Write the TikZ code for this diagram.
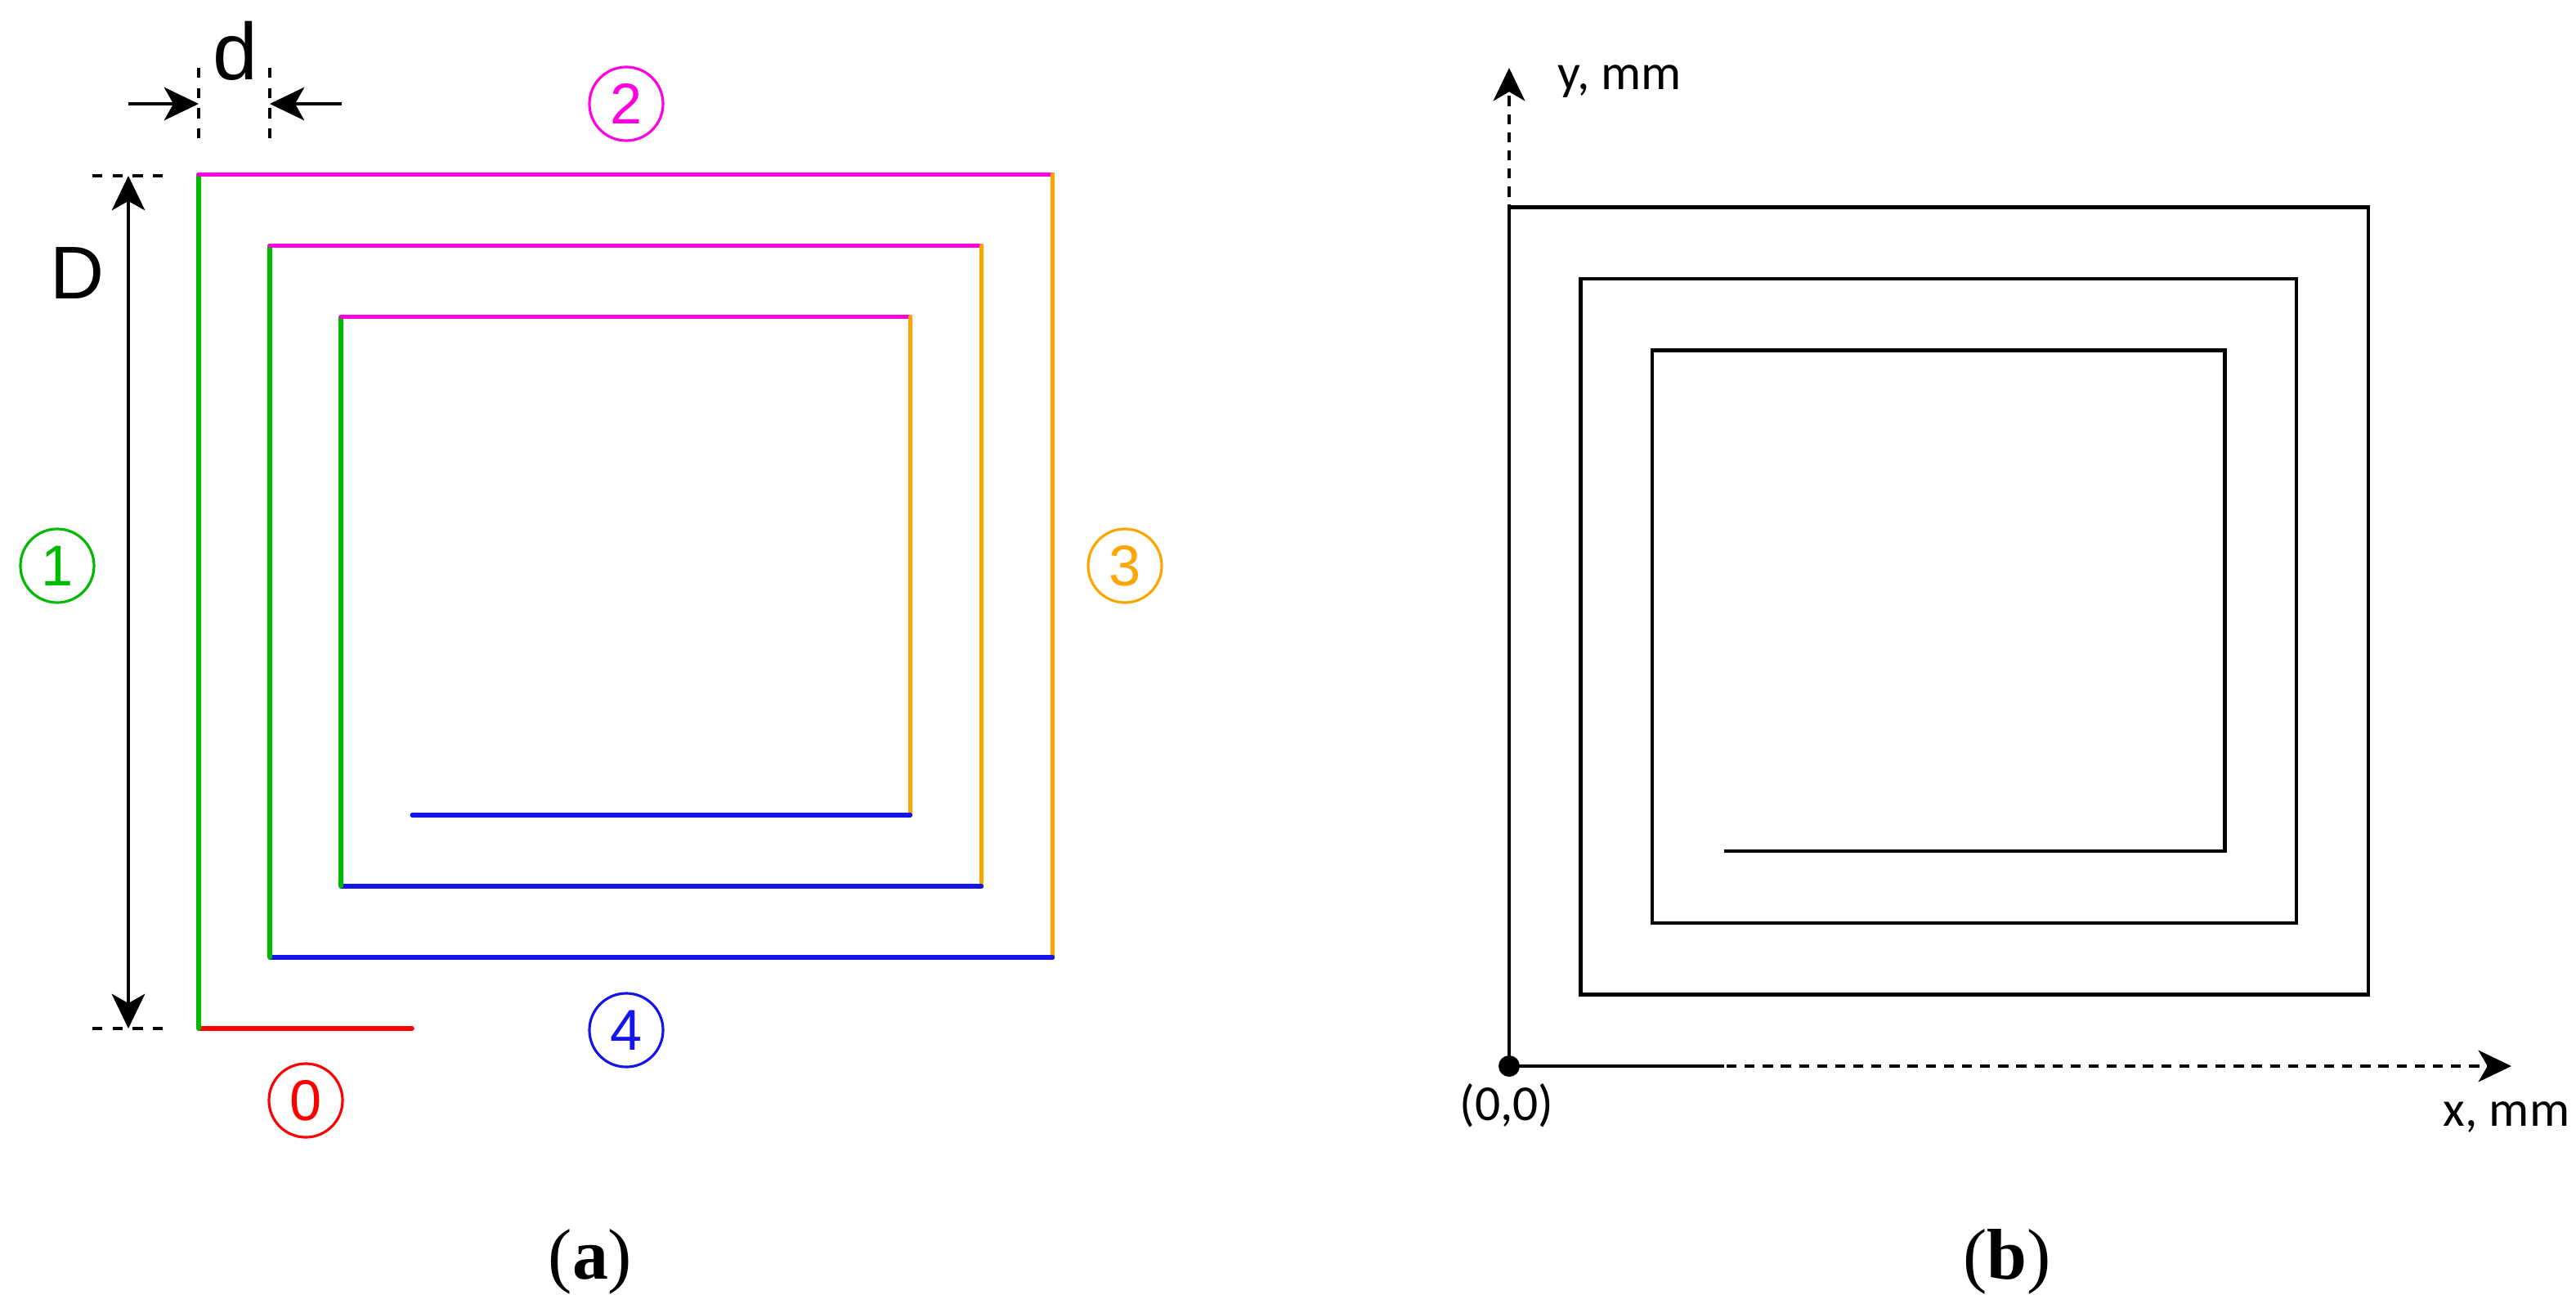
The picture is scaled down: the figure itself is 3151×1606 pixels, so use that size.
\documentclass[tikz,border=0pt]{standalone}
\usepackage{fontspec}
\setmainfont{Liberation Serif}
\newfontfamily\arialf{Liberation Sans}
\newfontfamily\calf{Carlito}
\usetikzlibrary{arrows.meta}
\definecolor{cgreen}{RGB}{0,185,0}
\definecolor{cpink}{RGB}{255,0,225}
\definecolor{corange}{RGB}{255,165,0}
\definecolor{cblue}{RGB}{20,20,235}
\definecolor{cred}{RGB}{255,0,0}
\tikzset{
  seg/.style={line width=1.5pt, line cap=round},
  numlabel/.style={circle, draw, line width=0.9pt, minimum size=0.9cm, inner sep=0pt, font=\arialf\fontsize{20}{20}\selectfont},
  dimarrow/.style={line width=1.15pt, -{Stealth[length=12pt, width=11.5pt, inset=3.2pt]}},
  dimarrows/.style={line width=1.15pt, {Stealth[length=12pt, width=11.5pt, inset=3.2pt]}-{Stealth[length=12pt, width=11.5pt, inset=3.2pt]}},
  extline/.style={line width=1.15pt, dash pattern=on 3.5pt off 3.5pt},
  axisline/.style={line width=1.15pt, dash pattern=on 3.5pt off 2.8pt, -{Stealth[length=11.5pt, width=11pt, inset=3.2pt]}},
  spiralb/.style={line width=1.2pt, line join=miter},
}
\begin{document}
\begin{tikzpicture}[x=0.01cm, y=-0.01cm]
\path[use as bounding box] (0,0) rectangle (3151,1606);

% ---------------- left panel (a) ----------------
\begin{scope}[shift={(243,1258)}, x=0.87cm, y=0.87cm]
  \coordinate (o) at (0,0);
  \draw[seg, cred] (0,0) -- (3,0);
  \draw[seg, cgreen] (0,0) -- (0,12);
  \draw[seg, cpink] (0,12) -- (12,12);
  \draw[seg, corange] (12,12) -- (12,1);
  \draw[seg, cblue] (12,1) -- (1,1);
  \draw[seg, cgreen] (1,1) -- (1,11);
  \draw[seg, cpink] (1,11) -- (11,11);
  \draw[seg, corange] (11,11) -- (11,2);
  \draw[seg, cblue] (11,2) -- (2,2);
  \draw[seg, cgreen] (2,2) -- (2,10);
  \draw[seg, cpink] (2,10) -- (10,10);
  \draw[seg, corange] (10,10) -- (10,3);
  \draw[seg, cblue] (10,3) -- (3,3);
\end{scope}

% circled labels
\node[numlabel, cred] (n0) at (374,1346) {0};
\node[numlabel, cgreen] (n1) at (70,692) {1};
\node[numlabel, cpink] (n2) at (766,127) {2};
\node[numlabel, corange] (n3) at (1376,692) {3};
\node[numlabel, cblue] (n4) at (766,1260) {4};

% D dimension
\coordinate (Dt) at (157,215);
\coordinate (Db) at (157,1258);
\coordinate (Dtl) at (113,215);
\coordinate (Dtr) at (201,215);
\coordinate (Dbl) at (113,1258);
\coordinate (Dbr) at (201,1258);
\draw[extline] (Dtl) -- (Dtr);
\draw[extline] (Dbl) -- (Dbr);
\draw[dimarrows] (Db) -- (Dt);
\node[font=\arialf\fontsize{26}{26}\selectfont, inner sep=0pt] (Dlab) at (95,334) {D};

% d dimension
\coordinate (e1t) at (243,83);
\coordinate (e1b) at (243,170);
\coordinate (e2t) at (330,83);
\coordinate (e2b) at (330,170);
\draw[extline] (e1t) -- (e1b);
\draw[extline] (e2t) -- (e2b);
\coordinate (a1s) at (157,127);
\coordinate (a1e) at (243,127);
\coordinate (a2s) at (418,127);
\coordinate (a2e) at (330,127);
\draw[dimarrow] (a1s) -- (a1e);
\draw[dimarrow] (a2s) -- (a2e);
\node[font=\arialf\fontsize{28}{28}\selectfont, inner sep=0pt] (dlab) at (288,62) {d};

\node[font=\fontsize{25}{25}\selectfont, inner sep=0pt] (capa) at (722,1543) {(\textbf{a})};

% ---------------- right panel (b) ----------------
\coordinate (O) at (1846,1304);
\coordinate (xend) at (3072,1304);
\coordinate (yend) at (1846,83);
\draw[axisline] (O) -- (xend);
\draw[axisline] (O) -- (yend);
\begin{scope}[shift={(1846,1304)}, x=0.875cm, y=0.875cm]
  \draw[spiralb] (3,0) -- (0,0) -- (0,12) -- (12,12) -- (12,1) -- (1,1) -- (1,11) -- (11,11) -- (11,2) -- (2,2) -- (2,10) -- (10,10) -- (10,3) -- (3,3);
\end{scope}
\fill (O) circle[radius=13];
\node[font=\calf\fontsize{17.5}{17.5}\selectfont, anchor=west, inner sep=0pt] (ylab) at (1905,100) {y, mm};
\node[font=\calf\fontsize{17.5}{17.5}\selectfont, inner sep=0pt] (xlab) at (3066,1366) {x, mm};
\node[font=\calf\fontsize{17.5}{17.5}\selectfont, inner sep=0pt] (olab) at (1843,1352) {(0,0)};

\node[font=\fontsize{25}{25}\selectfont, inner sep=0pt] (capb) at (2455,1543) {(\textbf{b})};
\end{tikzpicture}
\end{document}
